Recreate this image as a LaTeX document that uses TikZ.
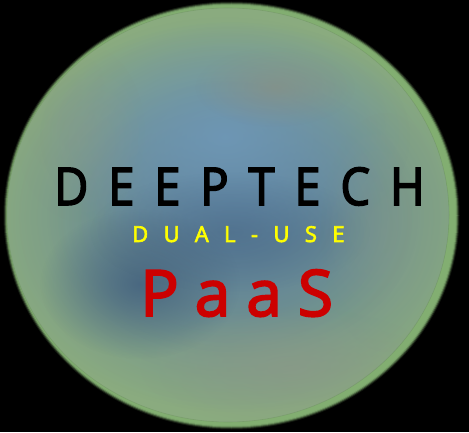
\documentclass[tikz,border=0pt]{standalone}
\usepackage{fontspec}
\setmainfont{Open Sans}
\newfontfamily\headfont[FakeStretch=0.9,FakeBold=3,LetterSpace=38.5]{Open Sans}
\newfontfamily\subfont[FakeBold=3,LetterSpace=70]{Open Sans}
\newfontfamily\paasfont[FakeBold=3,LetterSpace=25]{Open Sans}
\usetikzlibrary{fadings}

\definecolor{rimgreen}{HTML}{82AE71}
\definecolor{bodygreen}{HTML}{8AAC7F}
\definecolor{greygreen}{HTML}{8CA38A}
\definecolor{skyblue}{HTML}{6E97B6}
\definecolor{midblue}{HTML}{5A7E9C}
\definecolor{deepblue}{HTML}{46647F}
\definecolor{dusk}{HTML}{8E8E7C}
\definecolor{haze}{HTML}{8A9888}
\definecolor{paasred}{HTML}{CC0000}
\definecolor{dualyellow}{HTML}{FFFF00}

% soft round blob: opaque centre fading out towards its rim
\tikzfading[name=softblob, inner color=transparent!0, outer color=transparent!100]

\tikzset{
  blob/.style={fill=#1, path fading=softblob},
  label/.style={inner sep=0pt, anchor=base west}
}

\begin{document}
\begin{tikzpicture}[x=1pt, y=1pt]
  \useasboundingbox (0,0) rectangle (469,432);
  \fill[black] (0,0) rectangle (469,432);

  % blurred outer halo of the sphere
  \foreach \i/\o in {4/0.15,3/0.35,2/0.6,1/0.85}{
    \fill[rimgreen, opacity=\o] (231.5,216.5) ellipse [x radius={224+\i}, y radius={210+\i}];
  }
  \fill[rimgreen] (231.5,216.5) ellipse [x radius=224, y radius=210];

  % inner body with cloudy colour patches
  \begin{scope}
    \clip (228,217) ellipse [x radius=221, y radius=207];
    \fill[bodygreen] (228,217) ellipse [x radius=221, y radius=207];
    \fill[blob=greygreen, opacity=0.9] (230,216) ellipse [x radius=240, y radius=215];
    \fill[blob=midblue, opacity=1] (235,215) ellipse [x radius=250, y radius=195];
    \fill[blob=midblue, opacity=0.7] (235,215) ellipse [x radius=185, y radius=140];
    \fill[blob=skyblue, opacity=0.95] (225,295) ellipse [x radius=185, y radius=120];
    \fill[blob=deepblue, opacity=0.9] (140,148) ellipse [x radius=100, y radius=75];
    \fill[blob=deepblue, opacity=0.5] (230,200) ellipse [x radius=140, y radius=60];
    \fill[blob=dusk, opacity=0.55] (275,345) ellipse [x radius=80, y radius=40];
    \fill[blob=haze, opacity=0.75] (290,65) ellipse [x radius=150, y radius=60];
    \fill[blob=haze, opacity=0.3] (385,200) ellipse [x radius=65, y radius=120];
    \fill[blob=haze, opacity=0.35] (80,300) ellipse [x radius=65, y radius=90];
  \end{scope}
  \draw[rimgreen!75!black, opacity=0.3, line width=0.6pt] (228,217) ellipse [x radius=221, y radius=207];

  % titles
  \node[label, font=\headfont\fontsize{52}{52}\selectfont, text=black] (deeptech) at (54,227) {DEEPTECH};
  \node[label, font=\subfont\fontsize{22}{22}\selectfont, text=dualyellow] (dualuse) at (132,190) {DUAL-USE};
  \node[label, font=\paasfont\fontsize{64}{64}\selectfont, text=paasred] (paas) at (140,116) {PaaS};
\end{tikzpicture}
\end{document}
